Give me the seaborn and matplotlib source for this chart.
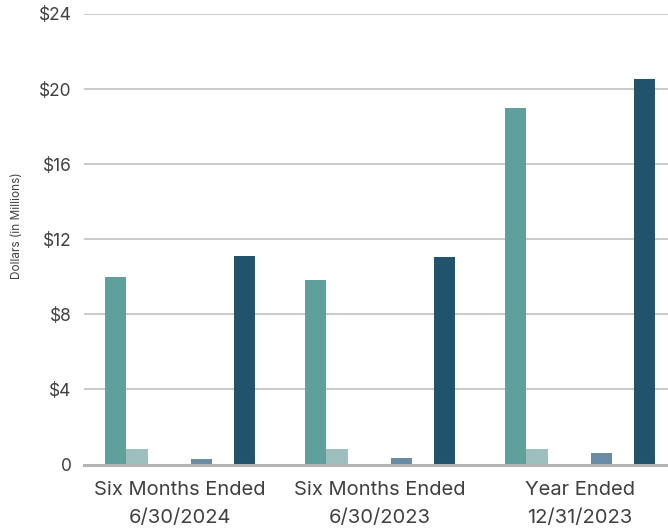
import matplotlib
matplotlib.use("Agg")
import matplotlib.pyplot as plt
import seaborn as sns
import pandas as pd

# Periods shown on the x axis
periods = ["Six Months Ended\n6/30/2024", "Six Months Ended\n6/30/2023", "Year Ended\n12/31/2023"]

# Series values in millions of dollars (zero-valued series keep their slot in each group)
series_a = [10.0, 9.85, 19.0]
series_b = [0.85, 0.85, 0.85]
series_c = [0.0, 0.0, 0.0]
series_d = [0.0, 0.0, 0.0]
series_e = [0.27, 0.32, 0.60]
series_f = [0.0, 0.0, 0.0]
series_g = [11.1, 11.05, 20.55]

series_names = ["A", "B", "C", "D", "E", "F", "G"]
series_values = [series_a, series_b, series_c, series_d, series_e, series_f, series_g]
series_colors = ["#5f9f9c", "#9dbfbd", "#ffffff", "#ffffff", "#6a8ba5", "#ffffff", "#21536d"]

y_ticks = [0, 4, 8, 12, 16, 20, 24]
y_tick_labels = ["0", "$4", "$8", "$12", "$16", "$20", "$24"]

rows = []
for name, vals in zip(series_names, series_values):
    for p, v in zip(periods, vals):
        rows.append({"period": p, "series": name, "value": v})
df = pd.DataFrame(rows)

sns.set_theme(style="white")
plt.rcParams["font.family"] = ["Inter", "DejaVu Sans"]

fig = plt.figure(figsize=(6.68, 5.31), dpi=100)
ax = fig.add_axes([84 / 668, 1 - 464.5 / 531, 1 - 84 / 668, (464.5 - 14) / 531])

sns.barplot(data=df, x="period", y="value", hue="series", hue_order=series_names,
            order=periods, palette=series_colors, width=0.75, saturation=1,
            linewidth=0, legend=False, ax=ax, zorder=3)

ax.set_ylim(0, 24)
ax.set_xlim(-0.48, 2.44)
ax.set_yticks(y_ticks)
ax.set_yticklabels(y_tick_labels)
ax.yaxis.grid(True, color="#c6c6c6", linewidth=1.3, zorder=0)
ax.xaxis.grid(False)
for s in ["top", "right", "left"]:
    ax.spines[s].set_visible(False)
ax.spines["bottom"].set_color("#b4b4b4")
ax.spines["bottom"].set_linewidth(2.2)
ax.spines["bottom"].set_zorder(4)

ax.tick_params(axis="y", length=0, pad=9, labelsize=12.5, labelcolor="#404040")
ax.tick_params(axis="x", length=0, pad=12, labelsize=14.5, labelcolor="#404040")
for lbl in ax.get_xticklabels():
    lbl.set_linespacing(1.7)

ax.set_xlabel("")
ax.set_ylabel("Dollars (in Millions)", fontsize=8.5, color="#404040")
ax.yaxis.set_label_coords(-0.105, 0.53)

fig.savefig("out.png", dpi=100)
